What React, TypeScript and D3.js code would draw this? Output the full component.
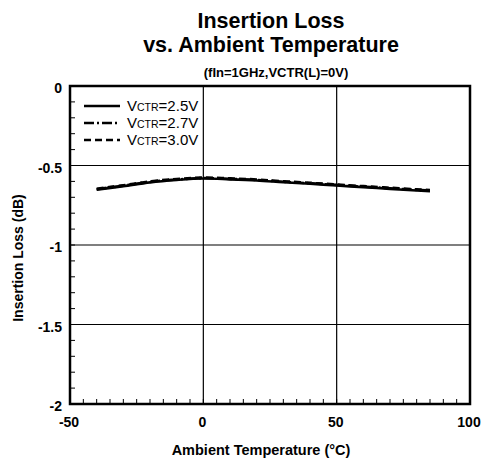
import React, { useEffect, useRef } from 'react';
import * as d3 from 'd3';

// temperature (°C)
const temps = [-40, -30, -20, -10, 0, 10, 20, 30, 40, 50, 60, 70, 80, 85];
// insertion loss (dB) per control voltage
const loss25 = [-0.652, -0.630, -0.606, -0.591, -0.582, -0.587, -0.594, -0.605, -0.615, -0.626, -0.636, -0.647, -0.657, -0.661];
const loss27 = [-0.649, -0.627, -0.603, -0.588, -0.579, -0.584, -0.591, -0.602, -0.612, -0.622, -0.633, -0.643, -0.653, -0.657];
const loss30 = [-0.646, -0.624, -0.600, -0.585, -0.576, -0.581, -0.588, -0.599, -0.609, -0.619, -0.630, -0.640, -0.650, -0.654];

const seriesNames = ['2.5V', '2.7V', '3.0V'];
const xTicks = [-50, 0, 50, 100];
const yTicks = [0, -0.5, -1, -1.5, -2];
const yTickLabels = ['0', '-0.5', '-1', '-1.5', '-2'];

export default function App() {
  const svgRef = useRef<SVGSVGElement>(null);

  useEffect(() => {
    if (!svgRef.current) return;
    const svg = d3.select(svgRef.current);
    svg.selectAll('*').remove();

    const left = 70, right = 470, top = 86, bottom = 404;
    const font = 'Liberation Sans, Arial, sans-serif';

    const x = d3.scaleLinear().domain([-50, 100]).range([left, right]);
    const y = d3.scaleLinear().domain([0, -2]).range([top, bottom]);

    // titles
    svg.append('text').attr('x', 271).attr('y', 28).attr('text-anchor', 'middle')
      .style('font-family', font).style('font-weight', 'bold').style('font-size', '21.5px')
      .text('Insertion Loss');
    svg.append('text').attr('x', 271).attr('y', 52).attr('text-anchor', 'middle')
      .style('font-family', font).style('font-weight', 'bold').style('font-size', '21.5px')
      .text('vs. Ambient Temperature');
    svg.append('text').attr('x', 276).attr('y', 77).attr('text-anchor', 'middle')
      .style('font-family', font).style('font-weight', 'bold').style('font-size', '13px')
      .text('(fIn=1GHz,VCTR(L)=0V)');

    // grid
    const g = svg.append('g');
    g.selectAll('line.hg').data(yTicks.slice(1, -1)).enter().append('line')
      .attr('x1', left).attr('x2', right).attr('y1', d => y(d)).attr('y2', d => y(d))
      .attr('stroke', '#000').attr('stroke-width', 1.2);
    g.selectAll('line.vg').data(xTicks.slice(1, -1)).enter().append('line')
      .attr('y1', top).attr('y2', bottom).attr('x1', d => x(d)).attr('x2', d => x(d))
      .attr('stroke', '#000').attr('stroke-width', 1.2);

    // minor ticks
    const yMinor = d3.range(0, 21).map(i => -i * 0.1);
    g.selectAll('line.ym').data(yMinor).enter().append('line')
      .attr('x1', left).attr('x2', left + 5).attr('y1', d => y(d)).attr('y2', d => y(d))
      .attr('stroke', '#000').attr('stroke-width', 1);
    const xMinor = d3.range(0, 31).map(i => -50 + i * 5);
    g.selectAll('line.xm').data(xMinor).enter().append('line')
      .attr('y1', bottom).attr('y2', bottom - 5).attr('x1', d => x(d)).attr('x2', d => x(d))
      .attr('stroke', '#000').attr('stroke-width', 1);

    // frame
    svg.append('rect').attr('x', left).attr('y', top).attr('width', right - left).attr('height', bottom - top)
      .attr('fill', 'none').attr('stroke', '#000').attr('stroke-width', 2.5);

    // tick labels
    svg.selectAll('text.yl').data(yTicks).enter().append('text')
      .attr('x', 62).attr('y', d => y(d) + 7).attr('text-anchor', 'end')
      .style('font-family', font).style('font-weight', 'bold').style('font-size', '14px')
      .text((d, i) => yTickLabels[i]);
    svg.selectAll('text.xl').data(xTicks).enter().append('text')
      .attr('x', d => x(d) - 1).attr('y', 427).attr('text-anchor', 'middle')
      .style('font-family', font).style('font-weight', 'bold').style('font-size', '14px')
      .text(d => String(d));

    // axis titles
    svg.append('text').attr('x', 261).attr('y', 455).attr('text-anchor', 'middle')
      .style('font-family', font).style('font-weight', 'bold').style('font-size', '14.5px')
      .text('Ambient Temperature (°C)');
    svg.append('text').attr('transform', 'translate(23,258) rotate(-90)').attr('text-anchor', 'middle')
      .style('font-family', font).style('font-weight', 'bold').style('font-size', '14px')
      .text('Insertion Loss (dB)');

    // curves
    const dashes = [null, '10,3,2,3', '7,4'];
    const all = [loss25, loss27, loss30];
    const line = d3.line<number>().x((d, i) => x(temps[i])).y(d => y(d)).curve(d3.curveCatmullRom);
    all.forEach((vals, k) => {
      svg.append('path').attr('d', line(vals) as string).attr('fill', 'none')
        .attr('stroke', '#000').attr('stroke-width', 2.6)
        .attr('stroke-dasharray', dashes[k] ?? null);
    });

    // legend
    const leg = svg.append('g');
    const rows = [106, 123, 140];
    seriesNames.forEach((name, k) => {
      leg.append('line').attr('x1', 84).attr('x2', 120).attr('y1', rows[k]).attr('y2', rows[k])
        .attr('stroke', '#000').attr('stroke-width', 2.6)
        .attr('stroke-dasharray', dashes[k] ?? null);
      const t = leg.append('text').attr('x', 127).attr('y', rows[k] + 5)
        .style('font-family', font).style('font-size', '15px');
      t.append('tspan').text('V');
      t.append('tspan').style('font-size', '10.5px').text('CTR');
      t.append('tspan').text('=' + name);
    });
  }, []);

  return (
    <svg ref={svgRef} width={482} height={464}
      style={{ position: 'absolute', left: 0, top: 0, background: '#fff' }} />
  );
}
